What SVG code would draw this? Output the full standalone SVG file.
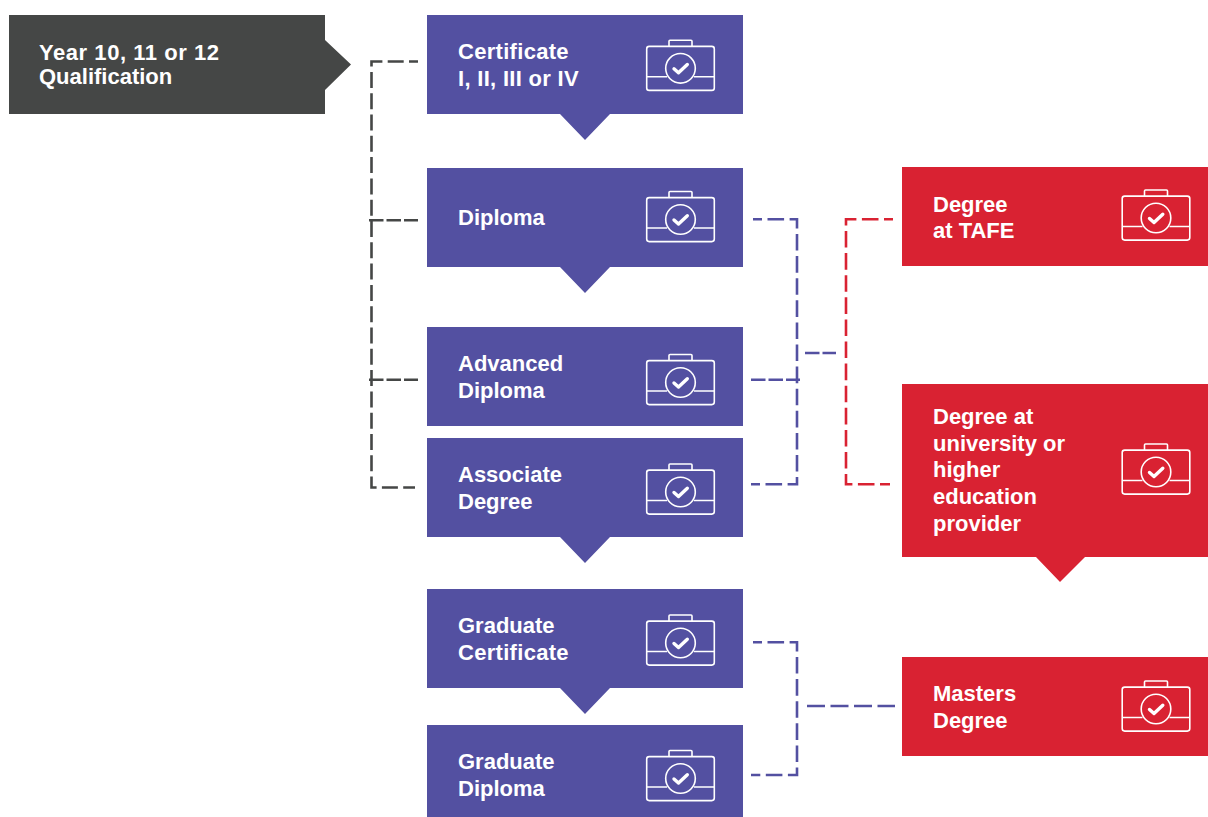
<svg xmlns="http://www.w3.org/2000/svg" width="1208" height="817" viewBox="0 0 1208 817">
<style>
.g{fill:#454746}.p{fill:#5350a1}.r{fill:#d92232}
text{font-family:"Liberation Sans",Arial,sans-serif;font-weight:700;font-size:22px;fill:#fff}
.w{letter-spacing:.3px}
.y{letter-spacing:.55px}
.ic{fill:none;stroke:#fff;stroke-width:1.6}
.ck{fill:none;stroke:#fff;stroke-width:3.4;stroke-linecap:round;stroke-linejoin:round}
.c{fill:none;stroke-width:2.6}
.cg{stroke:#454746}.cp{stroke:#5350a1}.cr{stroke:#d92232}
</style>
<defs>
<g id="icon">
<rect class="ic" x="-33.8" y="-21.9" width="67.6" height="44" rx="2.5"/>
<path class="ic" d="M-11.5-21.900V-27a1 1 0 0 1 1-1H10.500a1 1 0 0 1 1 1V-21.900"/>
<path class="ic" d="M-33.800 8.500H-13.500M13.500 8.500H33.800"/>
<circle class="ic" cx="0" cy="0" r="14.800"/>
<path class="ck" d="M-6.500 0.500L-2 4.500L6.800-3.800"/>
</g>
</defs>
<g id="connectors">
<path class="c cg" stroke-dasharray="16 5.3" stroke-dashoffset="7" d="M418 61.500H371.500V487.500H415"/>
<path class="c cg" stroke-dasharray="14.500 3" d="M369 220.300H418"/>
<path class="c cg" stroke-dasharray="14.500 3" d="M369 379.700H418"/>
<path class="c cp" stroke-dasharray="16.600 5.500" stroke-dashoffset="7.600" d="M753 219.300H797V484.300H751"/>
<path class="c cp" stroke-dasharray="14.500 3" d="M751 379.700H800"/>
<path class="c cp" stroke-dasharray="14.500 3" d="M805 353H836"/>
<path class="c cr" stroke-dasharray="16.600 5.500" stroke-dashoffset="7.600" d="M893 219.300H846V484.300H890"/>
<path class="c cp" stroke-dasharray="16.600 5.500" stroke-dashoffset="7.600" d="M753 642.300H797V775H751"/>
<path class="c cp" stroke-dasharray="18 5.500" d="M807 706H895"/>
</g>
<g id="year"><path class="g" d="M9 15H325V40L351 64.500L325 90V114H9Z"/><text class="y" x="39" y="60">Year 10, 11 or 12</text><text x="39" y="84">Qualification</text></g>
<g id="certificate"><path class="p" d="M427 15H743V114H610L585 140L560 114H427Z"/><text class="w" x="458" y="59">Certificate</text><text class="w" x="458" y="86">I, II, III or IV</text><use href="#icon" x="680.500" y="68.300"/></g>
<g id="diploma"><path class="p" d="M427 168H743V267H610L585 293L560 267H427Z"/><text x="458" y="225">Diploma</text><use href="#icon" x="680.500" y="219.500"/></g>
<g id="advanced"><rect class="p" x="427" y="327" width="316" height="99"/><text x="458" y="371">Advanced</text><text x="458" y="398">Diploma</text><use href="#icon" x="680.500" y="382.500"/></g>
<g id="associate"><path class="p" d="M427 438H743V537H610L585 563L560 537H427Z"/><text x="458" y="482">Associate</text><text x="458" y="509">Degree</text><use href="#icon" x="680.500" y="492"/></g>
<g id="gradcert"><path class="p" d="M427 589H743V688H610L585 714L560 688H427Z"/><text x="458" y="633">Graduate</text><text class="w" x="458" y="660">Certificate</text><use href="#icon" x="680.500" y="643"/></g>
<g id="graddip"><rect class="p" x="427" y="725" width="316" height="92"/><text x="458" y="769">Graduate</text><text x="458" y="796">Diploma</text><use href="#icon" x="680.500" y="778.500"/></g>
<g id="tafe"><rect class="r" x="902" y="167" width="306" height="99"/><text x="933" y="212">Degree</text><text x="933" y="238">at TAFE</text><use href="#icon" x="1156" y="218"/></g>
<g id="university"><path class="r" d="M902 384H1208V557H1085L1060 582L1036 557H902Z"/><text x="933" y="424">Degree at</text><text x="933" y="451">university or</text><text x="933" y="477">higher</text><text x="933" y="504">education</text><text x="933" y="531">provider</text><use href="#icon" x="1156" y="472"/></g>
<g id="masters"><rect class="r" x="902" y="657" width="306" height="99"/><text x="933" y="701">Masters</text><text x="933" y="728">Degree</text><use href="#icon" x="1156" y="709"/></g>
</svg>
